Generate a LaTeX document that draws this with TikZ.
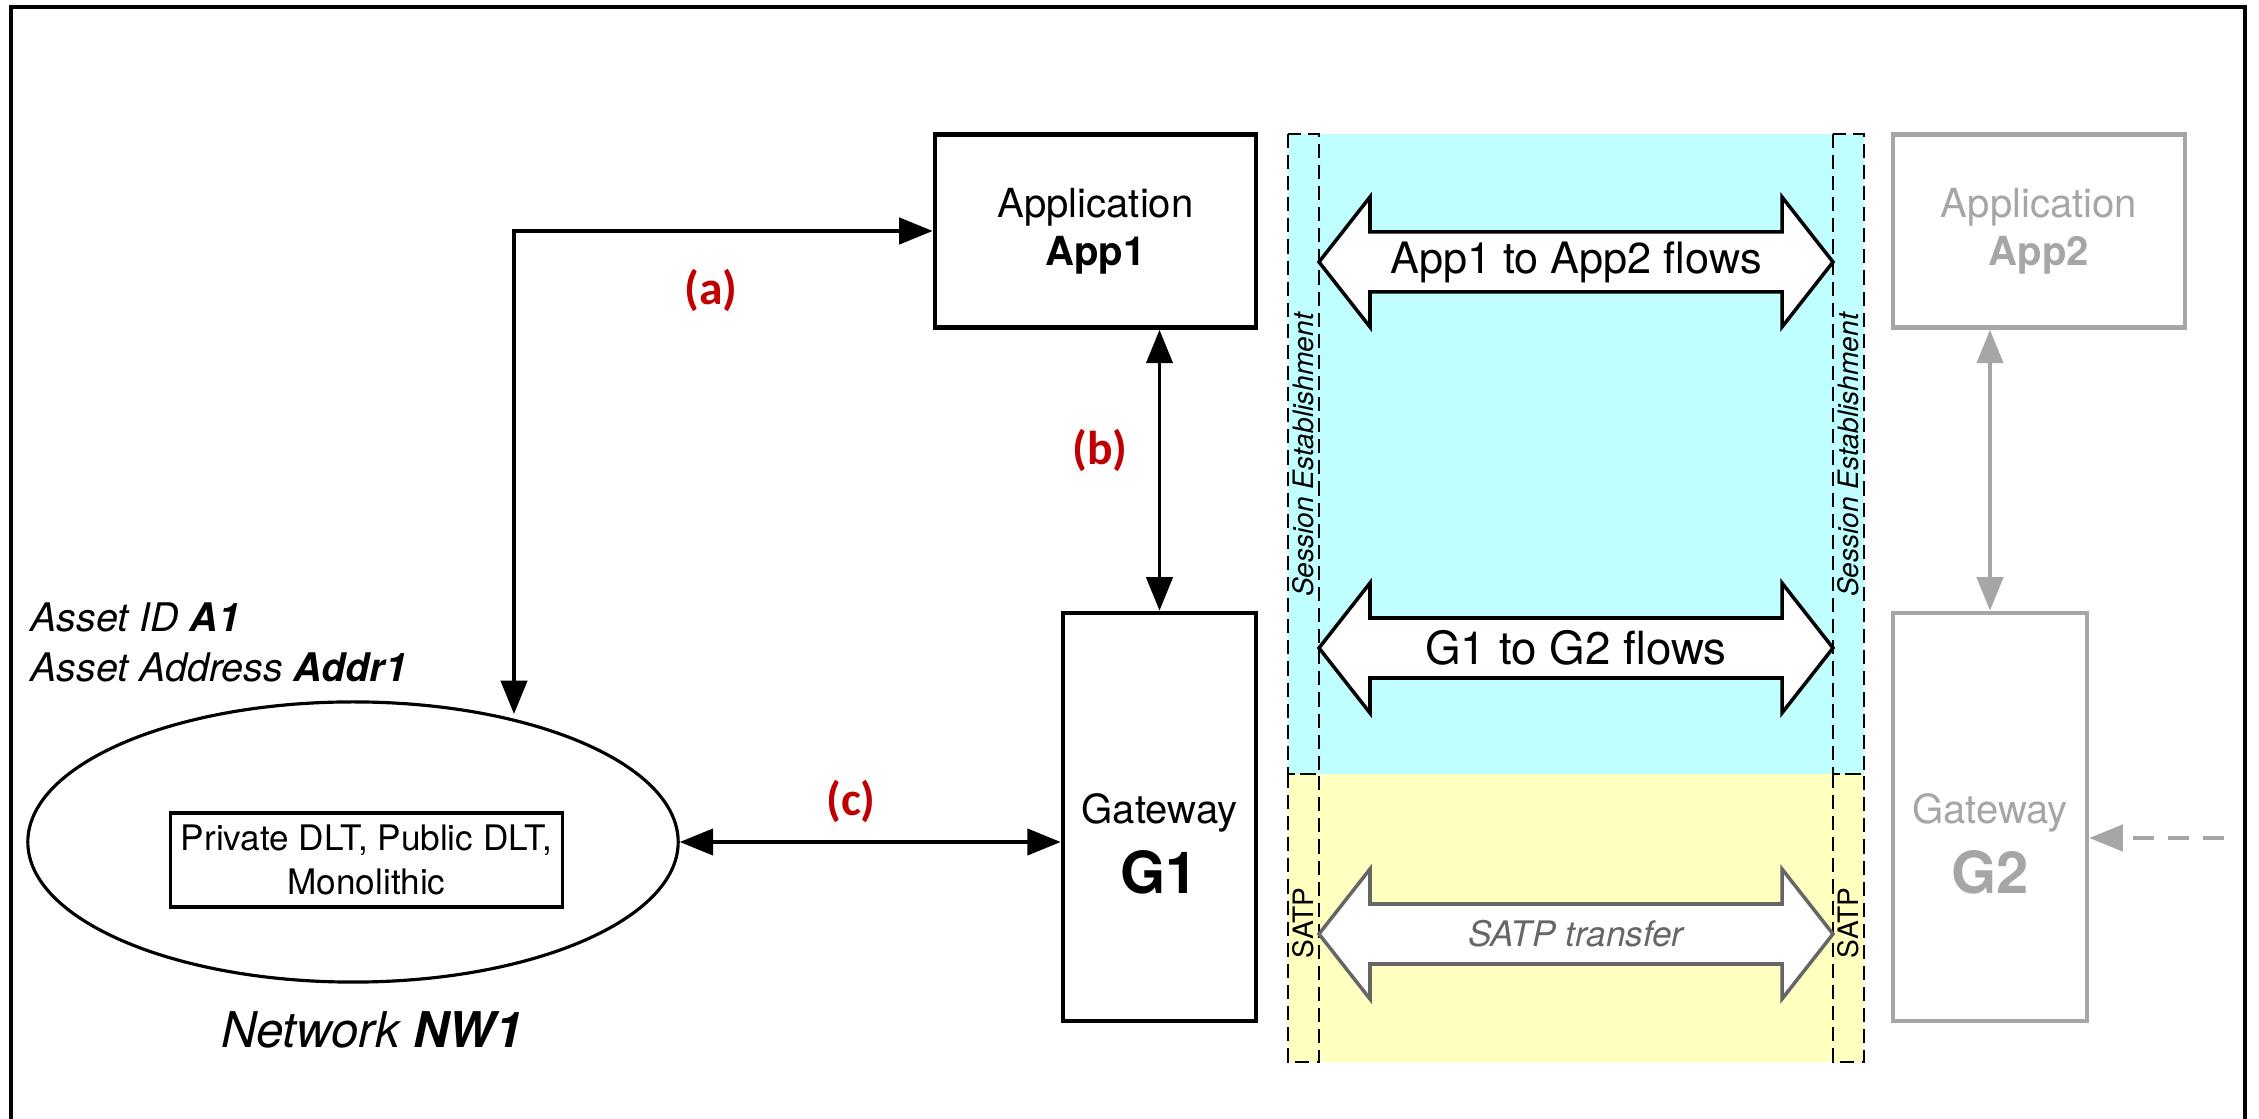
\documentclass[tikz,border=0pt]{standalone}
\usepackage{fontspec}
\setmainfont{TeX Gyre Heros}
\newfontfamily\calib{Carlito}
\usetikzlibrary{arrows.meta,shapes.geometric}
\definecolor{cyanbg}{HTML}{BFFFFF}
\definecolor{yellowbg}{HTML}{FFFFC0}
\definecolor{greyc}{HTML}{A6A6A6}
\definecolor{darkred}{HTML}{C00000}
\definecolor{satpgrey}{HTML}{666666}
\begin{document}
\begin{tikzpicture}[x=0.01cm,y=-0.01cm,
  box/.style={draw, line width=1.3pt, inner sep=0pt, align=center},
  conn/.style={line width=0.9pt, {Triangle[length=9.5pt,width=7.5pt]}-{Triangle[length=9.5pt,width=7.5pt]}},
  lbl/.style={text=darkred, font=\calib\bfseries\fontsize{13.5}{15}\selectfont},
  blockarrow/.style={draw, fill=white, line width=1pt, line join=miter},
  striplbl/.style={rotate=90, font=\fontsize{8}{9}\selectfont},
  stripbox/.style={draw, line width=0.5pt, dash pattern=on 4pt off 2pt},
  apptxt/.style={font=\fontsize{11.4}{13.7}\selectfont}
]
\useasboundingbox (0,0) rectangle (2259,1119);
% outer frame
\draw[line width=1.1pt] (11,1140) -- (11,7) -- (2245,7) -- (2245,1140);

% backgrounds
\fill[cyanbg] (1288,134) rectangle (1864,774);
\fill[yellowbg] (1288,774) rectangle (1864,1062);
\draw[stripbox] (1288,134) rectangle (1319,774);
\draw[stripbox] (1288,774) rectangle (1319,1062);
\draw[stripbox] (1833,134) rectangle (1864,774);
\draw[stripbox] (1833,774) rectangle (1864,1062);

\node[striplbl, font=\itshape\fontsize{8}{9}\selectfont] (se1) at (1303.5,455) {Session Establishment};
\node[striplbl, font=\itshape\fontsize{8}{9}\selectfont] (se2) at (1848.5,455) {Session Establishment};
\node[striplbl] (sa1) at (1303.5,923) {SATP};
\node[striplbl] (sa2) at (1848.5,923) {SATP};

% block arrows
\draw[blockarrow] (1319,262) -- (1370,197) -- (1370,232) -- (1782,232) -- (1782,197) -- (1833,262) -- (1782,327) -- (1782,292) -- (1370,292) -- (1370,327) -- cycle;
\node[font=\fontsize{12.3}{14}\selectfont] (f1) at (1576,262) {App1 to App2 flows};
\draw[blockarrow] (1319,648) -- (1370,583) -- (1370,618) -- (1782,618) -- (1782,583) -- (1833,648) -- (1782,713) -- (1782,678) -- (1370,678) -- (1370,713) -- cycle;
\node[font=\fontsize{13}{15}\selectfont] (f2) at (1576,648) {G1 to G2 flows};
\draw[blockarrow, draw=satpgrey] (1319,934) -- (1370,869) -- (1370,904) -- (1782,904) -- (1782,869) -- (1833,934) -- (1782,999) -- (1782,964) -- (1370,964) -- (1370,999) -- cycle;
\node[font=\itshape\fontsize{10}{12}\selectfont, text=satpgrey] (f3) at (1576,934) {SATP transfer};

% App1, G1
\node[box, apptxt, minimum width=3.21cm, minimum height=1.93cm] (app1) at (1095.5,231) {Application\\\textbf{App1}};
\node[box, minimum width=1.93cm, minimum height=4.08cm] (g1) at (1159.5,817) {};
\node[font=\fontsize{11.4}{13}\selectfont] (g1a) at (1159.5,813) {Gateway};
\node[font=\bfseries\fontsize{16.5}{18}\selectfont] (g1b) at (1159.5,872) {G1};

% App2, G2
\node[box, draw=greyc, text=greyc, apptxt, minimum width=2.92cm, minimum height=1.93cm] (app2) at (2039,231) {Application\\\textbf{App2}};
\node[box, draw=greyc, minimum width=1.94cm, minimum height=4.08cm] (g2) at (1990,817) {};
\node[font=\fontsize{11.4}{13}\selectfont, text=greyc] (g2a) at (1990,813) {Gateway};
\node[font=\bfseries\fontsize{16.5}{18}\selectfont, text=greyc] (g2b) at (1990,872) {G2};

% network
\node[draw, ellipse, line width=0.9pt, minimum width=6.5cm, minimum height=2.8cm] (nw1) at (353,842) {};
\node[draw, line width=0.9pt, align=center, font=\fontsize{10}{12.5}\selectfont, minimum width=3.91cm, minimum height=0.94cm, inner sep=0pt] (dlt) at (366.5,860) {Private DLT, Public DLT,\\Monolithic};
\node[anchor=base west, font=\itshape\fontsize{11.2}{13}\selectfont, inner sep=0pt] (aid) at (30,632) {Asset ID \textbf{A1}};
\node[anchor=base west, font=\itshape\fontsize{11.2}{13}\selectfont, inner sep=0pt] (aaddr) at (30,682) {Asset Address \textbf{Addr1}};
\node[font=\itshape\fontsize{14}{16}\selectfont] (nwl) at (372,1030) {Network \textbf{NW1}};

% connectors
\coordinate (aend) at (514,714);
\draw[conn] (app1.west) -| (aend);
\node[lbl] (la) at (711,290) {(a)};
\draw[conn] (app1.south -| g1.north) -- (g1.north);
\node[lbl] (lb) at (1100,450) {(b)};
\draw[conn] (nw1.east) -- (g1.west |- nw1.east);
\node[lbl] (lc) at (851,801) {(c)};

\draw[conn, draw=greyc, fill=greyc] (g2.north) -- (app2.south -| g2.north);
\coordinate (ext) at (2224,838);
\draw[line width=0.9pt, draw=greyc, dash pattern=on 6pt off 4pt, -{Triangle[length=9.5pt,width=7.5pt,fill=greyc]}] (ext) -- (g2.east |- ext);
\end{tikzpicture}
\end{document}
